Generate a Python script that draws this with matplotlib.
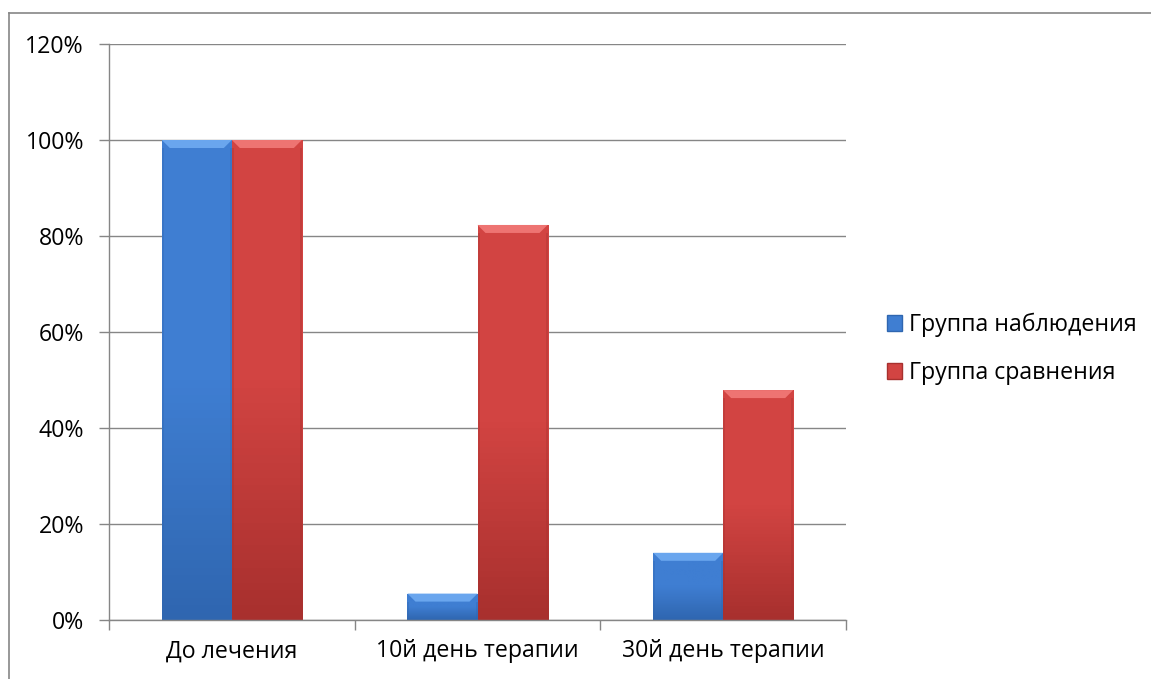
import numpy as np
import matplotlib
matplotlib.use("Agg")
import matplotlib.pyplot as plt
from matplotlib.patches import Patch, Polygon
from matplotlib.lines import Line2D
from matplotlib.colors import LinearSegmentedColormap

plt.rcParams['font.family'] = ['Open Sans', 'DejaVu Sans']

# === данные ===
categories = ["До лечения", "10й день терапии", "30й день терапии"]
series_names = ["Группа наблюдения", "Группа сравнения"]
observation = [100, 5.5, 14]
comparison = [100, 82.3, 47.9]
y_ticks = [0, 20, 40, 60, 80, 100, 120]

colors = {
    "blue": ("#2f66b0", "#3f7ed2", "#6aa6ee"),
    "red": ("#a8302e", "#d24442", "#ee7472"),
}
FS = 16.7

AX = [109 / 1151, 59 / 679, 737 / 1151, 576 / 679]
fig = plt.figure(figsize=(11.51, 6.79), dpi=100)
ax = fig.add_axes(AX)

x = np.arange(len(categories))
w = 0.285
ax.set_xlim(-0.5, len(categories) - 0.5)
ax.set_ylim(0, 120)

# пиксели -> единицы данных
px_y = 120 / (AX[3] * 679)
px_x = len(categories) / (AX[2] * 1151)


def fancy_bars(xs, vals, key):
    dark, mid, light = colors[key]
    bars = ax.bar(xs, vals, w, color=mid, edgecolor="none", zorder=3)
    cmap_v = LinearSegmentedColormap.from_list(key + "_v", [dark, mid, mid])
    for b in bars:
        x0, y0 = b.get_x(), b.get_y()
        bw, bh = b.get_width(), b.get_height()
        grad = np.linspace(0, 1, 64).reshape(-1, 1)
        im = ax.imshow(grad, cmap=cmap_v, aspect="auto", origin="lower",
                       extent=[x0, x0 + bw, y0, y0 + bh], zorder=3.1)
        im.set_clip_path(b)
        # скос сверху
        bev = min(8 * px_y, bh * 0.5)
        bx = 8 * px_x
        top = Polygon([[x0, y0 + bh], [x0 + bw, y0 + bh],
                       [x0 + bw - bx, y0 + bh - bev], [x0 + bx, y0 + bh - bev]],
                      closed=True, facecolor=light, edgecolor="none", zorder=3.2)
        ax.add_patch(top)
        # тёмные боковые грани
        for sx in (x0, x0 + bw - 2 * px_x):
            ax.add_patch(plt.Rectangle((sx, y0), 2 * px_x, bh - bev,
                                       facecolor=dark, alpha=0.35,
                                       edgecolor="none", zorder=3.2))
    ax.set_xlim(-0.5, len(categories) - 0.5)
    ax.set_ylim(0, 120)
    return bars


fancy_bars(x - w / 2, observation, "blue")
fancy_bars(x + w / 2, comparison, "red")

ax.set_yticks(y_ticks)
ax.set_yticklabels([f"{v}%" for v in y_ticks])
ax.set_xticks(x)
ax.set_xticklabels(categories)
ax.set_xticks(np.arange(len(categories) + 1) - 0.5, minor=True)
ax.tick_params(axis="x", which="major", length=0, pad=14, labelsize=FS)
ax.tick_params(axis="x", which="minor", length=7, color="#868686", width=1)
ax.tick_params(axis="y", length=7, color="#868686", width=1, pad=11, labelsize=FS)

ax.grid(axis="y", color="#868686", linewidth=1, zorder=0)
ax.set_axisbelow(True)
for s in ("top", "right"):
    ax.spines[s].set_visible(False)
for s in ("left", "bottom"):
    ax.spines[s].set_color("#868686")
    ax.spines[s].set_linewidth(1)
ax.spines["bottom"].set_zorder(4)

handles = [Patch(facecolor=colors["blue"][1], edgecolor=colors["blue"][0]),
           Patch(facecolor=colors["red"][1], edgecolor=colors["red"][0])]
fig.legend(handles, series_names, loc="center left",
           bbox_to_anchor=(0.771, 0.486), frameon=False, fontsize=FS,
           handlelength=0.65, handleheight=0.65, handletextpad=0.3,
           labelspacing=1.04, borderpad=0, borderaxespad=0)

# рамка области диаграммы
fy = 1 - 12.5 / 679
fx = 8.5 / 1151
fig.add_artist(Line2D([fx, 1], [fy, fy], color="#868686", linewidth=1.2,
                      transform=fig.transFigure))
fig.add_artist(Line2D([fx, fx], [0, fy], color="#868686", linewidth=1.2,
                      transform=fig.transFigure))

fig.savefig("out.png", dpi=100)
plt.close(fig)
